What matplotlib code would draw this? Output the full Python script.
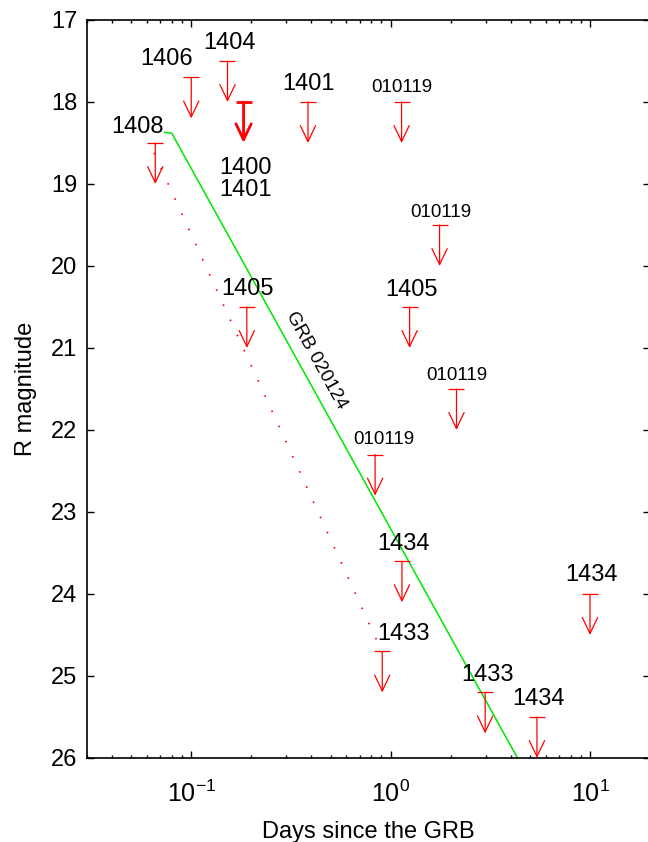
import numpy as np
import matplotlib
matplotlib.use("Agg")
import matplotlib.pyplot as plt

plt.rcParams['font.family'] = ['Liberation Sans', 'DejaVu Sans']
plt.rcParams['mathtext.fontset'] = 'custom'
plt.rcParams['mathtext.rm'] = 'Liberation Sans'
plt.rcParams['mathtext.it'] = 'Liberation Sans:italic'
plt.rcParams['mathtext.bf'] = 'Liberation Sans:bold'

# upper limits: days since the burst, limiting R magnitude, source label
days = [0.066, 0.100, 0.152, 0.183, 0.385, 1.135, 1.76, 1.245,
        2.14, 0.836, 1.14, 0.908, 2.98, 5.42, 10.0, 0.19]
rmag = [18.5, 17.7, 17.5, 18.0, 18.0, 18.0, 19.5, 20.5,
        21.5, 22.3, 23.6, 24.7, 25.2, 25.5, 24.0, 20.5]
names = ['1408', '1406', '1404', '1400\n1401', '1401', '010119', '010119', '1405',
         '010119', '010119', '1434', '1433', '1433', '1434', '1434', '1405']

# GRB 020124 afterglow
grb_days = [0.0736, 0.0798, 4.33]
grb_rmag = [18.37, 18.38, 26.0]

# dotted fit
fit_days = [0.065, 0.85]
fit_rmag = [18.62, 24.56]

# label offsets (points, label centre relative to the limit bar)
offsets = [(-12.6, 13.3), (-17.6, 15.1), (1.4, 14.8), (1.4, -57.2), (0.7, 14.8),
           (0, 12.2), (0.7, 10.8), (1.4, 14.0), (0, 11.5), (6.1, 12.2),
           (1.1, 14.4), (15.1, 14.4), (1.4, 14.4), (1.1, 14.4), (1.4, 15.1), (0.7, 14.4)]

fig = plt.figure(figsize=(6.48, 8.42), dpi=100)
ax = fig.add_axes([87/648, 84/842, 563/648, 738/842])
ax.set_xscale('log')
ax.set_xlim(0.03, 20)
ax.set_ylim(26, 17)

ax.plot(grb_days, grb_rmag, color='#00e600', lw=1.1)
ax.plot(fit_days, fit_rmag, color='red', lw=1.2, linestyle=(0, (1, 9)))

for i, (t, m, name) in enumerate(zip(days, rmag, names)):
    w = 2.0 if '\n' in name else 0.9
    ax.annotate('', xy=(t, m + 0.5), xytext=(t, m),
                arrowprops=dict(arrowstyle='->,head_length=1.15,head_width=0.55',
                                color='red', lw=w, shrinkA=0, shrinkB=0,
                                mutation_scale=10))
    ax.plot([t], [m], marker='_', ms=11, mew=w, color='red')
    fs = 13.5 if name == '010119' else 17
    dx, dy = offsets[i]
    if '\n' in name:
        ax.annotate(name, xy=(t, m), xytext=(dx, dy + 1.7), textcoords='offset points',
                    ha='center', va='center', fontsize=fs, linespacing=1.0)
    else:
        ax.annotate(name, xy=(t, m), xytext=(dx, dy - 0.358 * fs), textcoords='offset points',
                    ha='center', va='baseline', fontsize=fs)

ax.text(0.426, 21.15, 'GRB 020124', rotation=-61, rotation_mode='anchor',
        ha='center', va='center', fontsize=13.5)

ax.set_yticks(np.arange(17, 27, 1))
ax.tick_params(which='both', direction='in', top=True, right=True, width=1)
ax.tick_params(which='major', length=5, labelsize=17)
ax.tick_params(which='minor', length=2.5)
ax.tick_params(axis='y', pad=7)
ax.tick_params(axis='x', pad=16, labelsize=18)
for s in ax.spines.values():
    s.set_linewidth(1.2)

ax.set_xlabel('Days since the GRB', fontsize=17, labelpad=10)
ax.set_ylabel('R magnitude', fontsize=17, labelpad=10)

fig.savefig('out.png', dpi=100)
